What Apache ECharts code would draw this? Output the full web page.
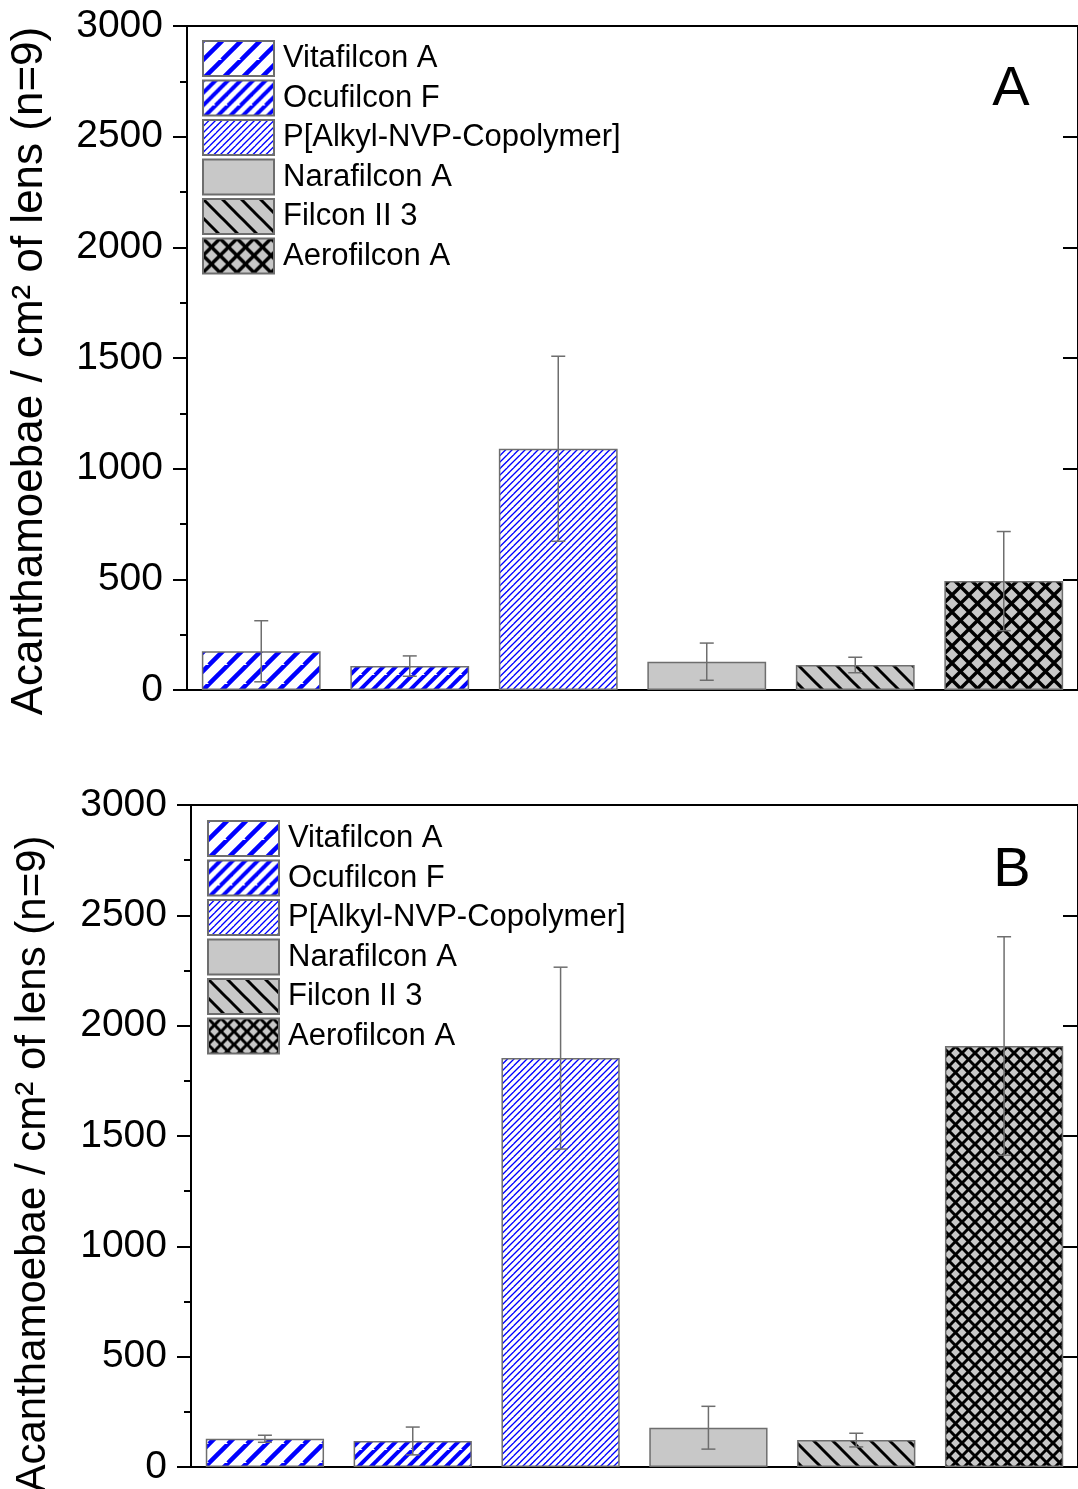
<!DOCTYPE html>
<html>
<head>
<meta charset="utf-8">
<script src="https://cdn.jsdelivr.net/npm/echarts@6/dist/echarts.min.js"></script>
<style>
html, body { margin: 0; padding: 0; background: #fff; }
#chart { width: 1078px; height: 1489px; }
</style>
</head>
<body>
<div id="chart"></div>
<script>
// data
var categories = ['Vitafilcon A', 'Ocufilcon F', 'P[Alkyl-NVP-Copolymer]', 'Narafilcon A', 'Filcon II 3', 'Aerofilcon A'];
var meanA = [175, 108, 1090, 128, 113, 492];
var sdA = [138, 46, 418, 84, 35, 224];
var meanB = [128, 118, 1853, 178, 122, 1908];
var sdB = [16, 63, 412, 97, 31, 495];
var yMin = 0, yMax = 3000, yStep = 500;
var yTitle = 'Acanthamoebae / cm² of lens (n=9)';
var panelNames = ['A', 'B'];

var FONT = '"Liberation Sans", Arial, sans-serif';
var BLUE = '#0000ff', GREY = '#c8c8c8', EDGE = '#6e6e6e';

// hatch tile: size S, n lines per tile, dirs '/' and/or '\'
function hatch(S, n, lw, color, bg, dirs) {
  var c = document.createElement('canvas');
  c.width = S; c.height = S;
  var ctx = c.getContext('2d');
  ctx.fillStyle = bg;
  ctx.fillRect(0, 0, S, S);
  ctx.strokeStyle = color;
  ctx.lineWidth = lw;
  var step = S / n;
  if (dirs.indexOf('/') >= 0) {
    for (var k = 0; k <= 2 * n; k++) {
      var v = k * step;
      ctx.beginPath(); ctx.moveTo(v + S, -S); ctx.lineTo(v - S, S); ctx.stroke();
    }
  }
  if (dirs.indexOf('\\') >= 0) {
    for (var m = -n; m <= n; m++) {
      var w = m * step;
      ctx.beginPath(); ctx.moveTo(-S, -S + w); ctx.lineTo(2 * S, 2 * S + w); ctx.stroke();
    }
  }
  return { image: c, repeat: 'repeat' };
}

// the cross-hatch is coarser in panel A than in panel B
function makeFills(crossSize, crossWidth) {
  return [
    hatch(19, 1, 4.5, BLUE, '#fff', '/'),
    hatch(25, 2, 4, BLUE, '#fff', '/'),
    hatch(13, 2, 1.3, BLUE, '#fff', '/'),
    GREY,
    hatch(19, 1, 3, '#000', GREY, '\\'),
    hatch(crossSize, 1, crossWidth, '#000', GREY, '/\\')
  ];
}
var fillSets = [makeFills(17, 3.4), makeFills(13, 3)];

function panelSeries(p, means, sds) {
  var list = [];
  categories.forEach(function (name, i) {
    list.push({
      name: name,
      type: 'bar',
      xAxisIndex: p,
      yAxisIndex: p * 2,
      barWidth: '80%',
      barGap: '-100%',
      data: categories.map(function (_, j) { return j === i ? means[i] : '-'; }),
      itemStyle: { color: fillSets[p][i], borderColor: EDGE, borderWidth: 1.5 },
      emphasis: { disabled: true }
    });
  });
  list.push({
    type: 'custom',
    xAxisIndex: p,
    yAxisIndex: p * 2,
    z: 10,
    encode: { x: 0, y: [1, 2] },
    data: means.map(function (m, i) { return [i, m - sds[i], m + sds[i]]; }),
    renderItem: function (params, api) {
      var lo = api.coord([api.value(0), api.value(1)]);
      var hi = api.coord([api.value(0), api.value(2)]);
      var st = { stroke: EDGE, lineWidth: 1.5 };
      return {
        type: 'group',
        children: [
          { type: 'line', shape: { x1: lo[0], y1: lo[1], x2: hi[0], y2: hi[1] }, style: st },
          { type: 'line', shape: { x1: hi[0] - 7, y1: hi[1], x2: hi[0] + 7, y2: hi[1] }, style: st },
          { type: 'line', shape: { x1: lo[0] - 7, y1: lo[1], x2: lo[0] + 7, y2: lo[1] }, style: st }
        ]
      };
    }
  });
  return list;
}

var grids = [
  { left: 187, top: 26, width: 894, height: 664 },
  { left: 191, top: 805, width: 891, height: 662 }
];

function leftAxis(g) {
  return {
    type: 'value', gridIndex: g, position: 'left',
    min: yMin, max: yMax, interval: yStep,
    axisLine: { show: true, lineStyle: { color: '#000', width: 2 } },
    axisTick: { show: true, inside: false, length: 14, lineStyle: { color: '#000', width: 2 } },
    minorTick: { show: true, splitNumber: 2, length: 7, lineStyle: { color: '#000', width: 2 } },
    axisLabel: {
      fontSize: 39, fontFamily: FONT, color: '#000', margin: 24,
      formatter: function (v) { return String(v); }
    },
    splitLine: { show: false }
  };
}
function rightAxis(g) {
  return {
    type: 'value', gridIndex: g, position: 'right',
    min: yMin, max: yMax, interval: yStep,
    axisLine: { show: true, lineStyle: { color: '#000', width: 2 } },
    axisTick: { show: true, inside: true, length: 15, lineStyle: { color: '#000', width: 2 } },
    axisLabel: { show: false },
    splitLine: { show: false }
  };
}
function xAxis(g) {
  return {
    type: 'category', gridIndex: g, data: categories,
    axisLine: { show: true, lineStyle: { color: '#000', width: 2 } },
    axisTick: { show: false },
    axisLabel: { show: false }
  };
}
function legend(p, left, top) {
  return {
    data: categories.map(function (n) { return { name: n, itemStyle: { color: fillSets[p][categories.indexOf(n)] } }; }),
    orient: 'vertical', left: left, top: top, padding: 0,
    itemWidth: 71, itemHeight: 35, itemGap: 2.5, icon: 'rect',
    selectedMode: false,
    textStyle: { fontSize: 31, lineHeight: 35, fontFamily: FONT, color: '#000', padding: [0, 0, 0, 4] }
  };
}

var myChart = echarts.init(document.getElementById('chart'));
var option = {
  animation: false,
  grid: grids.map(function (g) {
    return Object.assign({ show: true, borderColor: '#000', borderWidth: 2, backgroundColor: 'transparent' }, g);
  }),
  xAxis: [xAxis(0), xAxis(1)],
  yAxis: [leftAxis(0), rightAxis(0), leftAxis(1), rightAxis(1)],
  legend: [legend(0, 202, 40), legend(1, 207, 820)],
  graphic: [
    { type: 'text', x: 30, y: 371, rotation: Math.PI / 2,
      style: { text: yTitle, font: '44px ' + FONT, fill: '#000', align: 'center', verticalAlign: 'middle' } },
    { type: 'text', x: 33, y: 1164, rotation: Math.PI / 2,
      style: { text: yTitle, font: '42px ' + FONT, fill: '#000', align: 'center', verticalAlign: 'middle' } },
    { type: 'text', x: 1011, y: 90,
      style: { text: panelNames[0], font: '56px ' + FONT, fill: '#000', align: 'center', verticalAlign: 'middle' } },
    { type: 'text', x: 1012, y: 871,
      style: { text: panelNames[1], font: '56px ' + FONT, fill: '#000', align: 'center', verticalAlign: 'middle' } }
  ],
  series: panelSeries(0, meanA, sdA).concat(panelSeries(1, meanB, sdB))
};

if (option && typeof option === "object") {
  myChart.setOption(option, true);
}
</script>
</body>
</html>
